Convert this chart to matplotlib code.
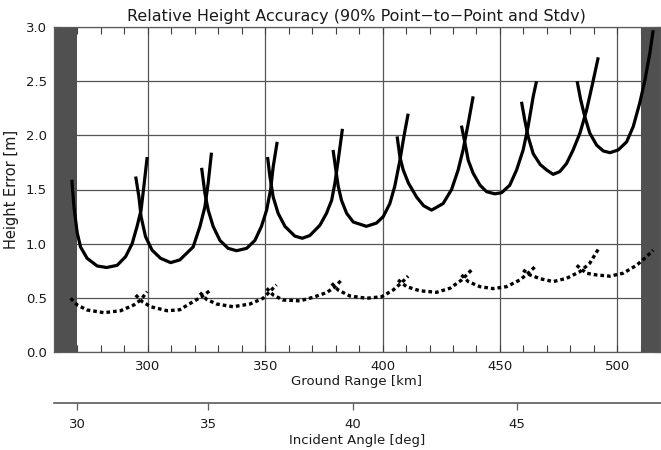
import matplotlib
matplotlib.use("Agg")
import matplotlib.pyplot as plt

# ---- data (ground range [km], height error [m]) ----
# 90% point-to-point (solid) segments
p2p1_range = [267.6, 268.5, 269.9, 271.3, 274.1, 278.4, 282.4, 286.9, 290.5, 293.3, 295.4, 297.1, 298.3, 299.7]
p2p1_err = [1.59, 1.34, 1.10, 0.97, 0.865, 0.794, 0.78, 0.80, 0.88, 1.00, 1.16, 1.31, 1.53, 1.80]
p2p2_range = [294.8, 296.2, 297.1, 299.0, 301.8, 305.4, 309.7, 313.6, 319.3, 322.2, 324.3, 325.7, 327.1]
p2p2_err = [1.62, 1.43, 1.25, 1.065, 0.94, 0.865, 0.825, 0.85, 0.97, 1.16, 1.34, 1.56, 1.84]
p2p3_range = [322.9, 324.3, 325.7, 327.8, 330.7, 334.2, 337.8, 342.1, 345.6, 348.4, 350.6, 352.3, 353.4, 355.1]
p2p3_err = [1.70, 1.465, 1.31, 1.16, 1.03, 0.957, 0.935, 0.957, 1.03, 1.16, 1.31, 1.50, 1.71, 1.94]
p2p4_range = [351.0, 352.0, 353.4, 355.5, 358.4, 362.6, 365.8, 369.0, 373.3, 376.1, 378.3, 379.7, 381.1, 382.9]
p2p4_err = [1.80, 1.62, 1.43, 1.28, 1.16, 1.07, 1.05, 1.075, 1.17, 1.28, 1.40, 1.56, 1.77, 2.06]
p2p5_range = [378.9, 380.1, 381.1, 382.5, 384.7, 387.5, 393.1, 397.4, 400.3, 403.1, 405.2, 407.4, 409.1, 410.9]
p2p5_err = [1.865, 1.68, 1.53, 1.40, 1.28, 1.20, 1.16, 1.19, 1.25, 1.37, 1.53, 1.77, 1.99, 2.20]
p2p6_range = [406.2, 407.4, 408.8, 411.0, 414.5, 417.5, 420.9, 425.8, 429.4, 432.2, 434.3, 436.5, 438.6]
p2p6_err = [1.99, 1.80, 1.68, 1.56, 1.43, 1.35, 1.31, 1.37, 1.50, 1.68, 1.865, 2.11, 2.36]
p2p7_range = [433.6, 435.1, 436.5, 438.6, 441.5, 444.3, 447.8, 450.7, 454.2, 457.1, 459.9, 462.0, 464.2, 465.6]
p2p7_err = [2.09, 1.93, 1.77, 1.65, 1.54, 1.48, 1.46, 1.47, 1.54, 1.68, 1.865, 2.08, 2.36, 2.50]
p2p8_range = [459.2, 460.6, 462.0, 464.2, 467.2, 469.9, 472.7, 475.5, 478.4, 481.2, 484.1, 486.9, 489.5, 491.9]
p2p8_err = [2.31, 2.14, 1.99, 1.83, 1.73, 1.68, 1.64, 1.665, 1.74, 1.865, 2.02, 2.23, 2.48, 2.72]
p2p9_range = [482.9, 484.4, 486.2, 488.3, 491.2, 494.0, 496.9, 500.4, 504.0, 506.8, 509.6, 511.8, 513.9, 515.3]
p2p9_err = [2.50, 2.33, 2.17, 2.02, 1.91, 1.856, 1.84, 1.865, 1.94, 2.08, 2.30, 2.51, 2.76, 2.97]

# standard deviation (dashed) segments
std1_range = [267.1, 269.9, 274.1, 281.3, 288.4, 294.0, 296.9, 299.7]
std1_err = [0.496, 0.434, 0.388, 0.363, 0.381, 0.434, 0.48, 0.557]
std2_range = [294.8, 297.6, 301.2, 308.2, 313.6, 319.3, 322.9, 326.4]
std2_err = [0.526, 0.465, 0.418, 0.381, 0.39, 0.465, 0.51, 0.566]
std3_range = [322.2, 325.0, 329.3, 336.3, 343.5, 349.1, 354.8]
std3_err = [0.548, 0.486, 0.443, 0.418, 0.443, 0.496, 0.62]
std4_range = [350.6, 353.4, 357.6, 364.8, 370.4, 376.1, 379.7, 382.5]
std4_err = [0.588, 0.526, 0.48, 0.472, 0.505, 0.548, 0.60, 0.665]
std5_range = [378.3, 381.1, 386.1, 393.2, 399.6, 404.5, 408.1, 410.9]
std5_err = [0.634, 0.572, 0.517, 0.496, 0.51, 0.572, 0.64, 0.70]
std6_range = [406.6, 410.2, 415.9, 423.0, 428.7, 433.7, 438.6]
std6_err = [0.665, 0.603, 0.565, 0.551, 0.588, 0.665, 0.773]
std7_range = [433.6, 436.5, 441.5, 447.1, 452.8, 458.5, 462.0, 465.6]
std7_err = [0.711, 0.65, 0.603, 0.585, 0.603, 0.665, 0.727, 0.80]
std8_range = [459.9, 462.8, 467.4, 472.7, 478.4, 484.1, 488.3, 491.9]
std8_err = [0.757, 0.711, 0.675, 0.65, 0.68, 0.742, 0.82, 0.948]
std9_range = [482.7, 486.9, 491.2, 496.9, 502.5, 508.2, 512.5, 515.3]
std9_err = [0.80, 0.727, 0.711, 0.70, 0.727, 0.80, 0.88, 0.94]

# masked (invalid) ground-range zones
masked_zones = [(260, 270), (510, 518)]

# axis ticks
range_ticks = [300, 350, 400, 450, 500]
height_ticks = [0.0, 0.5, 1.0, 1.5, 2.0, 2.5, 3.0]
angle_labels = ["30", "35", "40", "45"]
angle_tick_range = [269.9, 325.7, 387.5, 457.4]   # ground range where each angle falls

p2p_ranges = [p2p1_range, p2p2_range, p2p3_range, p2p4_range, p2p5_range,
              p2p6_range, p2p7_range, p2p8_range, p2p9_range]
p2p_errs = [p2p1_err, p2p2_err, p2p3_err, p2p4_err, p2p5_err,
            p2p6_err, p2p7_err, p2p8_err, p2p9_err]
std_ranges = [std1_range, std2_range, std3_range, std4_range, std5_range,
              std6_range, std7_range, std8_range, std9_range]
std_errs = [std1_err, std2_err, std3_err, std4_err, std5_err,
            std6_err, std7_err, std8_err, std9_err]

# ---- figure ----
W, H = 661, 450
fig = plt.figure(figsize=(W / 100, H / 100), dpi=100)
plt.rcParams['font.family'] = ['DejaVu Sans']
txt = '#1a1a1a'
axcol = '#5a5a5a'

left_px, right_px, top_px, bot_px = 54, 659.5, 27, 352
ax = fig.add_axes([left_px / W, 1 - bot_px / H, (right_px - left_px) / W, (bot_px - top_px) / H])
ax.set_xlim(260, 518)
ax.set_ylim(0, 3.0)

for a, b in masked_zones:
    ax.axvspan(a, b, color='#505050', lw=0, zorder=1.5)

for r, e in zip(p2p_ranges, p2p_errs):
    ax.plot(r, e, color='black', lw=2.3, solid_capstyle='butt',
            solid_joinstyle='round', zorder=3)
for r, e in zip(std_ranges, std_errs):
    ax.plot(r, e, color='black', lw=2.4, linestyle=(0, (1.1, 0.9)), zorder=3)

ax.set_xticks(range_ticks)
ax.set_xticks(list(range(270, 518, 10)), minor=True)
ax.set_yticks(height_ticks)
ax.set_yticks([i / 10 for i in range(0, 31)], minor=True)
ax.set_xticklabels([str(t) for t in range_ticks])
ax.set_yticklabels([f"{t:.1f}" for t in height_ticks])
ax.grid(True, which='major', color='#555555', lw=0.9, zorder=1)
ax.set_axisbelow(True)
ax.tick_params(which='both', direction='in', top=True, right=True, length=5,
               width=0.8, color='#404040', labelsize=9.5, labelcolor=txt)
ax.tick_params(axis='x', pad=6)
ax.tick_params(axis='y', pad=5)
for s in ax.spines.values():
    s.set_color(axcol)
    s.set_linewidth(0.9)

ax.set_xlabel('Ground Range [km]', fontsize=9.5, color=txt, labelpad=1.5)
ax.set_ylabel('Height Error [m]', fontsize=10.5, color=txt, labelpad=5)
ax.set_title('Relative Height Accuracy (90% Point\u2212to\u2212Point and Stdv)',
             fontsize=11.5, color=txt, pad=4)

# secondary incident-angle axis
sec_y = 402.7
ax2 = fig.add_axes([left_px / W, 1 - sec_y / H, (W - left_px) / W, 1e-4])
ax2.set_xlim(260, 260 + (W - left_px) / 2.347)
ax2.set_ylim(0, 1)
for k in ['top', 'left', 'right']:
    ax2.spines[k].set_visible(False)
ax2.spines['bottom'].set_color(axcol)
ax2.spines['bottom'].set_linewidth(1.2)
ax2.set_yticks([])
ax2.set_xticks(angle_tick_range)
ax2.set_xticklabels(angle_labels)
ax2.tick_params(axis='x', direction='out', length=5, width=0.9, color=axcol,
                labelsize=9.5, labelcolor=txt, pad=6)
ax2.patch.set_visible(False)
ax2.set_xlabel('Incident Angle [deg]', fontsize=9.5, color=txt, labelpad=2)

fig.savefig('out.png', dpi=100)
